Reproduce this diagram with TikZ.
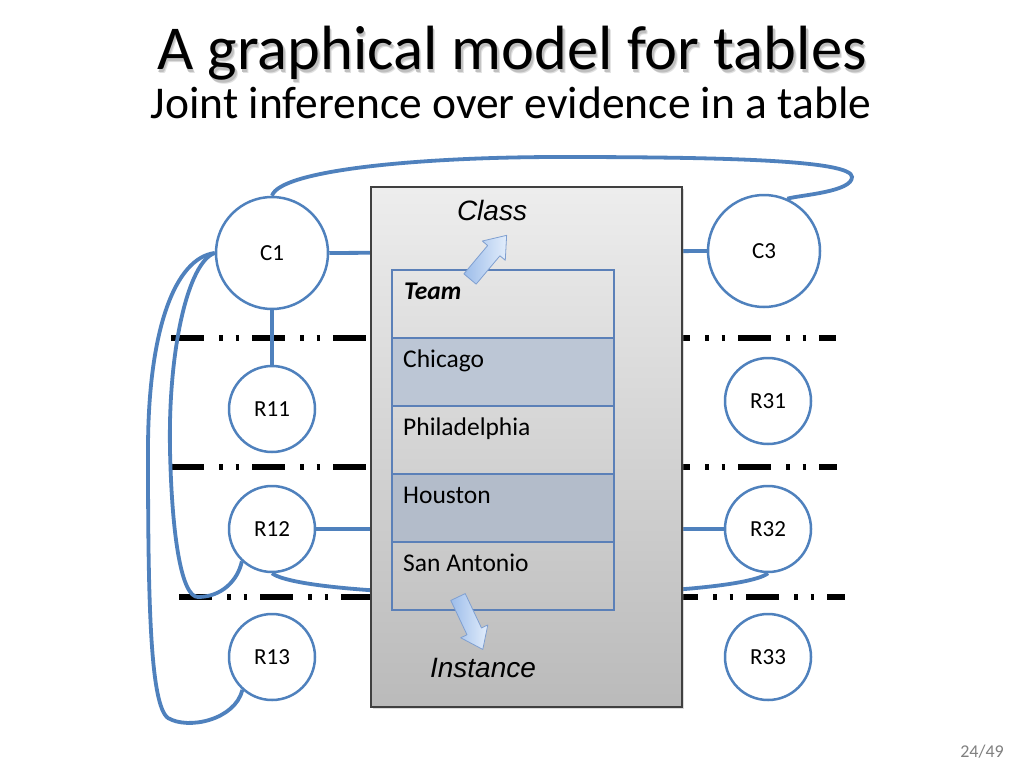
\documentclass[tikz,border=0pt]{standalone}
\usepackage{fontspec}
\setmainfont{Carlito}
\newfontfamily\arialfont{Liberation Sans}
\usetikzlibrary{shadows}
\definecolor{linkblue}{HTML}{4F81BD}
\definecolor{tableblue}{HTML}{5B80B8}
\definecolor{rowblue}{HTML}{BCC6D5}
\definecolor{arrowtail}{HTML}{9DBDEA}
\definecolor{arrowtip}{HTML}{E2EDFB}
\definecolor{arrowedge}{HTML}{7F9FD0}
\tikzset{
  bignode/.style={circle, draw=linkblue, line width=2.5pt, fill=white, minimum size=112pt, inner sep=0pt, font=\fontsize{23}{27}\selectfont},
  smallnode/.style={circle, draw=linkblue, line width=2.5pt, fill=white, minimum size=86pt, inner sep=0pt, font=\fontsize{23}{27}\selectfont},
  conn/.style={draw=linkblue, line width=3.8pt},
  sepline/.style={draw=black, line width=5.5pt, dash pattern=on 33pt off 15pt on 3.5pt off 13pt on 3.5pt off 13pt},
  frame/.style={rectangle, draw=black!75, line width=1.2pt, top color=black!7, bottom color=black!27, minimum width=311pt, minimum height=520pt, inner sep=0pt, general shadow={fill=black!40, opacity=0.35, shadow xshift=2pt, shadow yshift=-2pt}},
  rowcell/.style={rectangle, draw=tableblue, line width=1.1pt, minimum width=222pt, minimum height=68pt, inner sep=0pt},
  celltext/.style={anchor=base west, inner sep=0pt, font=\fontsize{25.5}{30}\selectfont},
  biglabel/.style={inner sep=0pt, font=\arialfont\itshape\fontsize{28}{32}\selectfont},
  blockarrow/.style={draw=arrowedge, line width=0.8pt, left color=arrowtail, right color=arrowtip, line join=round},
  titlefont/.style={anchor=base, inner sep=0pt, font=\fontsize{62.5}{70}\selectfont}
}
\begin{document}
\begin{tikzpicture}[x=1pt,y=-1pt]
\useasboundingbox[fill=white] (0,0) rectangle (1024,768);

% titles (with soft shadow)
\node[titlefont, text=black!12] at (514.5,73) {A graphical model for tables};
\node[titlefont, text=black!25] at (513.5,72) {A graphical model for tables};
\node[titlefont] (title) at (512,70) {A graphical model for tables};
\node[anchor=base, inner sep=0pt, font=\fontsize{45.5}{52}\selectfont] (subtitle) at (511,118) {Joint inference over evidence in a table};
\node[anchor=base east, inner sep=0pt, text=black!50, font=\fontsize{18}{22}\selectfont] (page) at (1004,757) {24/49};

% separator lines
\draw[sepline] (171,338) -- (836,338);
\draw[sepline] (171,467) -- (837,467);
\draw[sepline] (179,597) -- (845,597);

% nodes
\node[bignode] (C1) at (272,253) {C1};
\node[bignode] (C3) at (764,251) {C3};
\node[smallnode] (R11) at (272,409) {R11};
\node[smallnode] (R12) at (272,529) {R12};
\node[smallnode] (R13) at (272,657) {R13};
\node[smallnode] (R31) at (768,401) {R31};
\node[smallnode] (R32) at (768,529) {R32};
\node[smallnode] (R33) at (768,657) {R33};

% connectors
\draw[conn] (C1.east) -- (C3.west);
\draw[conn] (R12.east) -- (R32.west);
\draw[conn] (C1.south) -- (R11.north);
\draw[conn] (C1.north) .. controls (280,170) and (420,157) .. (560,157)
  .. controls (720,157) and (852,160) .. (852,177)
  .. controls (852,192) and (800,195) .. (C3.66);
\draw[conn] (C1.west) .. controls (188,262) and (168,350) .. (170,450)
  .. controls (172,540) and (182,597) .. (198,597)
  .. controls (222,597) and (238,580) .. (R12.227);
\draw[conn] (C1.west) .. controls (175,258) and (148,330) .. (148,450)
  .. controls (148,600) and (150,705) .. (168,718)
  .. controls (188,730) and (235,720) .. (R13.228);
\draw[conn] (R12.south) .. controls (310,602) and (730,602) .. (R32.south);

% central box
\node[frame] (box) at (526.5,447) {};

% table
\node[rowcell] (row0) at (503,304) {};
\node[rowcell, fill=rowblue] (row1) at (503,372) {};
\node[rowcell] (row2) at (503,440) {};
\node[rowcell, fill=rowblue!95!black] (row3) at (503,508) {};
\node[rowcell] (row4) at (503,576) {};
\node[celltext, font=\fontsize{25.5}{30}\selectfont\bfseries\itshape] (t0) at (404,299) {Team};
\node[celltext] (t1) at (403,367) {Chicago};
\node[celltext] (t2) at (403,435) {Philadelphia};
\node[celltext] (t3) at (403,503) {Houston};
\node[celltext] (t4) at (403,571) {San Antonio};

% class / instance labels
\node[biglabel, anchor=base] (class) at (492,220) {Class};
\node[biglabel, anchor=base] (instance) at (483,677) {Instance};

% block arrows
\begin{scope}[shift={(470,279)}, rotate=50]
  \path[blockarrow] (0,-8) -- (37,-8) -- (37,-15) -- (57,0) -- (37,15) -- (37,8) -- (0,8) -- cycle;
\end{scope}
\begin{scope}[shift={(458,597)}, rotate=-64.7]
  \path[blockarrow] (0,-8) -- (38,-8) -- (38,-15) -- (58,0) -- (38,15) -- (38,8) -- (0,8) -- cycle;
\end{scope}
\end{tikzpicture}
\end{document}
